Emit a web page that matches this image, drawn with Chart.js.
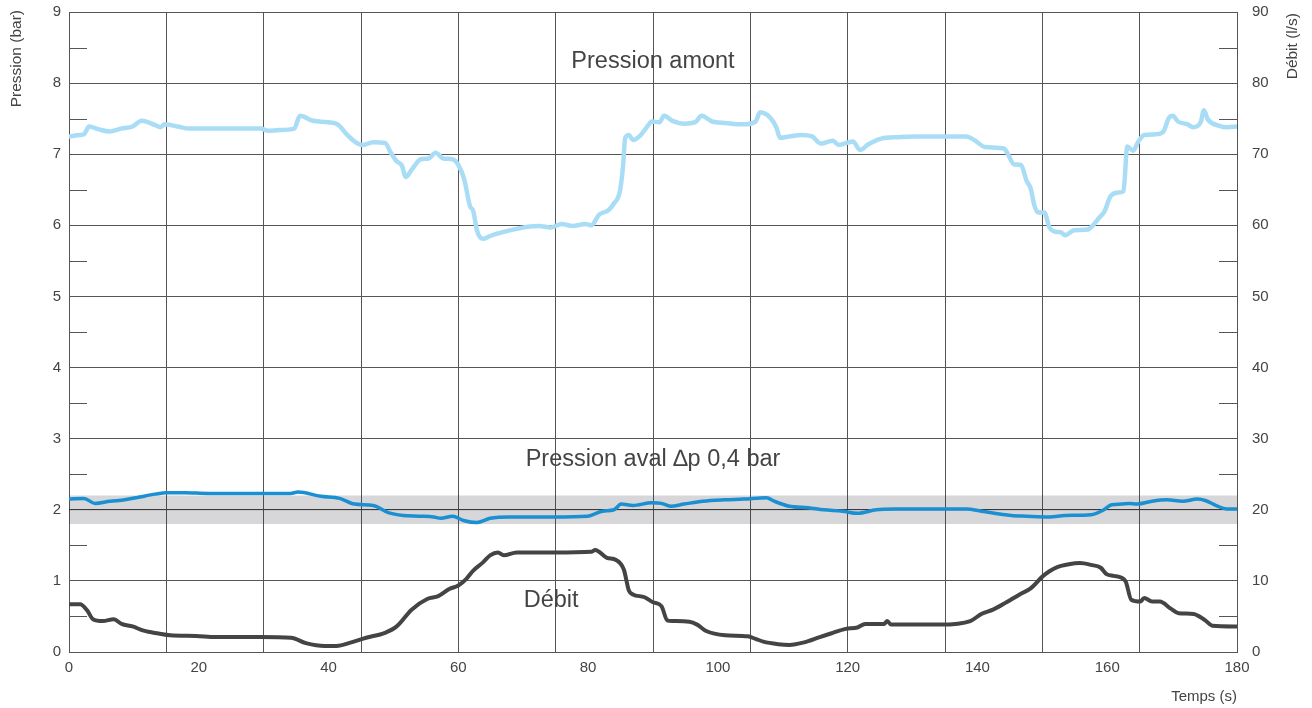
<!DOCTYPE html>
<html><head><meta charset="utf-8">
<script src="https://cdn.jsdelivr.net/npm/chart.js@4/dist/chart.umd.min.js"></script>
<style>html,body{margin:0;padding:0;background:#fff}canvas{display:block}</style>
</head><body>
<canvas id="c" width="1312" height="708"></canvas>
<script>
// ---- data ----
const amontT = [0,1.7,2.3,3.1,4.6,6.3,8.0,9.8,11.2,13.3,14.1,14.7,16.7,18.5,22.5,29.5,30.7,32.4,34.7,35.6,37.6,39.9,41.4,42.9,44.0,45.2,46.9,48.7,49.6,50.5,51.3,51.9,52.8,54.2,55.4,56.5,57.7,59.1,60,60.9,61.8,62.3,62.9,63.8,64.9,66.7,69,70.7,72.5,74.2,75.9,77.6,79.6,80.5,81.7,83.1,84.0,84.9,85.4,85.7,86.3,86.9,88.1,89.2,89.8,
  91,91.7,93,94.8,96.5,97.5,99.1,101.1,103.8,105.8,106.5,108.1,109,109.6,111,112.8,114.5,115.9,117.7,118.6,120.8,121.9,123.2,125.2,127.8,130.2,133.1,135.4,138.3,139.5,141.2,144.1,144.7,145.6,146.7,147.6,148.2,148.8,149.4,150.3,151.1,152,152.9,153.5,154.9,157,157.8,158.7,159.6,160.5,161.6,162.5,163.1,164,164.8,165.7,167.5,168.6,169.5,170.1,170.9,172.4,173.2,174.4,174.9,175.5,177.3,178.4,180];
const amontP = [7.25,7.27,7.28,7.39,7.35,7.32,7.36,7.39,7.47,7.41,7.38,7.42,7.39,7.36,7.36,7.36,7.33,7.34,7.36,7.54,7.47,7.45,7.42,7.27,7.18,7.13,7.17,7.16,7.02,6.9,6.84,6.68,6.78,6.93,6.94,7.02,6.94,6.93,6.85,6.65,6.27,6.2,5.92,5.81,5.85,5.9,5.95,5.98,5.99,5.97,6.02,5.99,6.02,6.0,6.15,6.21,6.31,6.48,6.85,7.22,7.27,7.2,7.27,7.4,7.46,
  7.45,7.54,7.47,7.43,7.45,7.54,7.46,7.44,7.42,7.46,7.59,7.51,7.38,7.23,7.25,7.27,7.25,7.15,7.19,7.13,7.18,7.06,7.14,7.22,7.24,7.25,7.25,7.25,7.25,7.2,7.1,7.08,7.0,6.86,6.85,6.62,6.52,6.27,6.18,6.18,5.97,5.91,5.9,5.86,5.93,5.94,6.0,6.1,6.2,6.41,6.46,6.48,7.11,7.05,7.18,7.27,7.28,7.31,7.51,7.54,7.46,7.42,7.38,7.45,7.62,7.49,7.4,7.38,7.39];

const avalT = [0,2.3,4.0,6.3,8.6,10.9,13.3,15,17.9,21.4,28.3,34.1,35.3,38.8,41.7,44,46.9,49.2,51.5,53.9,56.2,57.3,59.1,60.8,62.8,64.9,67.8,74.7,79.9,82.2,84,85.1,86.9,89.8,
  91.3,92.7,94.8,97.7,101.1,104,107.5,108.7,111,113.9,116.3,119.2,121.5,124.4,127.3,133.1,138.3,140.6,145.2,147.6,151.1,153.5,157.5,159.3,160.7,162.2,163.4,164.6,166.9,169.2,171.6,173.9,175.1,176.8,178.4,180];
const avalP = [2.15,2.16,2.09,2.12,2.14,2.18,2.22,2.24,2.24,2.23,2.23,2.23,2.25,2.19,2.16,2.08,2.06,1.96,1.92,1.91,1.9,1.88,1.91,1.85,1.82,1.88,1.9,1.9,1.91,1.98,2.0,2.08,2.06,2.1,
  2.09,2.05,2.08,2.12,2.14,2.15,2.17,2.12,2.05,2.03,2.0,1.98,1.95,2.0,2.01,2.01,2.01,1.98,1.92,1.91,1.9,1.92,1.93,1.99,2.07,2.08,2.09,2.08,2.12,2.14,2.12,2.15,2.13,2.06,2.01,2.01];

const debitT = [0,1.7,2.8,3.7,5.2,6.9,8.1,9.8,11.5,13.8,15.6,19.6,22.6,29.5,34.2,36.5,39.4,41.2,43.5,45.8,48.7,50.5,52.8,55.2,56.9,58.6,60,61.2,62.3,63.8,64.9,66.1,67,69,71.9,74.8,80.5,81.1,82.9,84.3,85.5,86.3,86.9,88.7,90,
  91.3,92.2,93,95.6,96.8,98.2,101.1,104.6,105.8,107,109.3,111,113.3,115.7,117.4,119.7,121.5,122.7,125.6,126.1,126.7,134.3,138.9,140.6,142.4,144.4,146.5,148.2,150,151.1,152.3,154.1,155.8,157.5,159,159.9,161,162.8,163.7,165.1,165.7,166.9,168.1,169.8,171,173.3,175.1,176.2,180];
const debitQ = [6.7,6.7,5.85,4.6,4.35,4.6,3.95,3.6,3.0,2.6,2.35,2.25,2.1,2.1,2.0,1.25,0.85,0.85,1.35,2.0,2.7,3.6,5.95,7.45,7.85,8.85,9.35,10.25,11.45,12.6,13.6,14.0,13.6,14.0,14.0,14.0,14.1,14.35,13.25,12.95,11.6,8.6,8.1,7.7,7.0,
  6.45,4.45,4.35,4.25,3.85,2.95,2.35,2.2,1.85,1.45,1.1,1.0,1.35,2.1,2.6,3.25,3.45,3.95,3.95,4.35,3.85,3.85,4.35,5.35,5.95,6.95,8.1,8.95,10.6,11.35,11.95,12.35,12.5,12.25,11.85,10.95,10.7,10.0,7.35,7.1,7.6,7.1,7.1,6.1,5.45,5.35,4.45,3.7,3.6];

const bandRange = [1.8, 2.2];     // bar
const refLine = 2;                 // bar
const xRange = [0, 180];
const xLabelStep = 20, xGridStep = 15;
const yLeftRange = [0, 9], yRightRange = [0, 90];
const labels = {
  amont: {text: 'Pression amont', x: 90, y: 8.3},
  aval:  {text: 'Pression aval \u2206p 0,4 bar', x: 90, y: 2.7},
  debit: {text: 'D\u00e9bit', x: 74.3, y: 0.73}
};
const titleLeft = 'Pression (bar)', titleRight = 'D\u00e9bit (l/s)', titleX = 'Temps (s)';

// ---- build ----
const pts = (t, v) => t.map((x, i) => ({x, y: v[i]}));
const FONT = '"Liberation Sans", Arial, Helvetica, sans-serif';
const GRID = '#555';
const TXT = '#444';

const minorTicks = {
  id: 'minorTicks',
  beforeDatasetsDraw(chart) {
    const {ctx, chartArea: a, scales: {y}} = chart;
    ctx.save();
    ctx.strokeStyle = GRID; ctx.lineWidth = 1;
    for (let v = 0.5; v < yLeftRange[1]; v += 1) {
      const py = Math.round(y.getPixelForValue(v)) + 0.5;
      ctx.beginPath();
      ctx.moveTo(a.left, py); ctx.lineTo(a.left + 18, py);
      ctx.moveTo(a.right - 18, py); ctx.lineTo(a.right, py);
      ctx.stroke();
    }
    ctx.restore();
  }
};

const texts = {
  id: 'texts',
  afterDatasetsDraw(chart) {
    const {ctx, chartArea: a, scales: {x, y}} = chart;
    ctx.save();
    ctx.fillStyle = TXT;
    ctx.font = '23.5px ' + FONT;
    ctx.textAlign = 'center'; ctx.textBaseline = 'middle';
    for (const k of Object.keys(labels)) {
      const l = labels[k];
      ctx.fillText(l.text, x.getPixelForValue(l.x), y.getPixelForValue(l.y));
    }
    ctx.font = '15.5px ' + FONT;
    ctx.save(); ctx.translate(17, a.top - 2); ctx.rotate(-Math.PI / 2);
    ctx.textAlign = 'right'; ctx.fillText(titleLeft, 0, 0); ctx.restore();
    ctx.save(); ctx.translate(1293, a.top + 1); ctx.rotate(-Math.PI / 2);
    ctx.textAlign = 'right'; ctx.fillText(titleRight, 0, 0); ctx.restore();
    ctx.font = '15px ' + FONT;
    ctx.textAlign = 'right';
    ctx.fillText(titleX, a.right, 697);
    ctx.restore();
  }
};

const noPadV = s => { s.paddingTop = 0; s.paddingBottom = 0; };

new Chart(document.getElementById('c'), {
  type: 'line',
  data: {
    datasets: [
      {label: 'amont', data: pts(amontT, amontP), yAxisID: 'y', borderColor: '#a9ddf6', borderWidth: 4.5, order: 2},
      {label: 'aval', data: pts(avalT, avalP), yAxisID: 'y', borderColor: '#1a8fd2', borderWidth: 3.5, order: 1},
      {label: 'debit', data: pts(debitT, debitQ), yAxisID: 'y2', borderColor: '#444444', borderWidth: 4, order: 0},
      {label: 'ref', data: pts(xRange, [refLine, refLine]), yAxisID: 'y', borderColor: 'rgba(0,0,0,0.35)', borderWidth: 1, order: 9, cubicInterpolationMode: 'default'},
      {label: 'bandTop', data: pts(xRange, [bandRange[1], bandRange[1]]), yAxisID: 'y', borderWidth: 0, borderColor: 'rgba(0,0,0,0)', backgroundColor: 'rgba(40,45,55,0.19)', fill: '+1', order: 10, cubicInterpolationMode: 'default'},
      {label: 'bandBottom', data: pts(xRange, [bandRange[0], bandRange[0]]), yAxisID: 'y', borderWidth: 0, borderColor: 'rgba(0,0,0,0)', fill: false, order: 11, cubicInterpolationMode: 'default'}
    ]
  },
  options: {
    responsive: false,
    animation: false,
    events: [],
    layout: {padding: {top: 12, left: 0, right: 0, bottom: 0}, autoPadding: false},
    elements: {point: {radius: 0}, line: {tension: 0, cubicInterpolationMode: 'monotone', borderJoinStyle: 'round', borderCapStyle: 'round'}},
    plugins: {legend: {display: false}, tooltip: {enabled: false}},
    scales: {
      x: {
        type: 'linear', min: xRange[0], max: xRange[1],
        afterFit: s => { s.height = 56; s.paddingLeft = 0; s.paddingRight = 0; },
        border: {display: true, color: GRID, width: 1},
        grid: {drawTicks: false, lineWidth: 1,
          color: c => (c.tick && Math.round(c.tick.value) % xGridStep === 0) ? GRID : 'rgba(0,0,0,0)'},
        ticks: {stepSize: 5, autoSkip: false, maxRotation: 0, padding: 7, color: TXT,
          font: {family: FONT, size: 15},
          callback: v => (Math.round(v) % xLabelStep === 0) ? String(Math.round(v)) : ''}
      },
      y: {
        position: 'left', min: yLeftRange[0], max: yLeftRange[1],
        afterFit: s => { s.width = 69; noPadV(s); },
        border: {display: true, color: GRID},
        grid: {drawTicks: false, color: GRID, lineWidth: 1},
        ticks: {stepSize: 1, padding: 8, color: TXT, font: {family: FONT, size: 15}}
      },
      y2: {
        position: 'right', min: yRightRange[0], max: yRightRange[1],
        afterFit: s => { s.width = 75; noPadV(s); },
        border: {display: false},
        grid: {drawTicks: false, drawOnChartArea: false},
        ticks: {stepSize: 10, padding: 15, color: TXT, font: {family: FONT, size: 15}}
      }
    }
  },
  plugins: [minorTicks, texts]
});
</script>
</body></html>
